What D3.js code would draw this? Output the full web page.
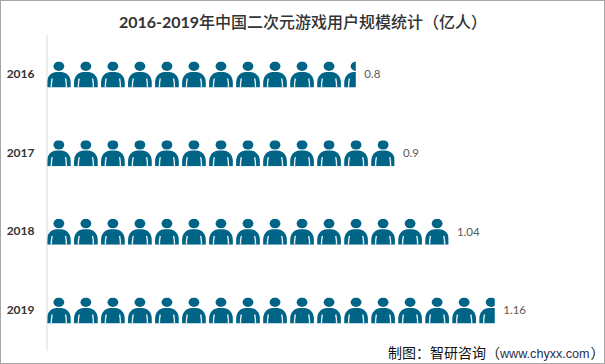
<!doctype html>
<html lang="en">
<head>
<meta charset="utf-8">
<title>2016-2019年中国二次元游戏用户规模统计</title>
<script src="https://d3js.org/d3.v7.min.js"></script>
<style>
  html, body { margin: 0; padding: 0; background: #fff; }
  svg { display: block; }
  .title { font-family: "Noto Sans CJK SC", sans-serif; font-size: 16px; font-weight: 500; fill: #333; text-anchor: middle; }
  .title .num { font-family: Lato, sans-serif; font-weight: 700; }
  .source { font-family: "Noto Sans CJK SC", sans-serif; font-size: 14px; fill: #111; }
  .source .url { font-family: "Liberation Sans", sans-serif; font-size: 12.6px; fill: #1f2f4f; }
  .tick text { font-family: Lato, sans-serif; font-size: 12px; font-weight: 700; fill: #333; }
  .value { font-family: Lato, sans-serif; font-size: 11.5px; fill: #595959; }
</style>
</head>
<body>
<div id="chart"></div>
<script>
  let years = ["2016", "2017", "2018", "2019"];
  let users = [0.8, 0.9, 1.04, 1.16];
  let valueLabels = ["0.8", "0.9", "1.04", "1.16"];
  // one person icon stands for this many 亿
  let perIcon = 0.07;

  let width = 605, height = 364;

  let svg = d3.select("#chart").append("svg")
      .attr("width", width)
      .attr("height", height);

  // frame round the picture
  svg.append("rect")
      .attr("x", 0.5).attr("y", 0.5)
      .attr("width", width - 1).attr("height", height - 1)
      .attr("fill", "#fff")
      .attr("stroke", "#a6a6a6");

  let xScale = d3.scaleLinear().domain([0, 1]).range([47, 433]);
  let yScale = d3.scaleBand().domain(years).range([34.5, 350.5])
      .paddingInner(0.67).paddingOuter(0.3435);

  let defs = svg.append("defs");

  // person icon, drawn in a 23.7 x 26 box
  let icon = defs.append("g").attr("id", "person");
  icon.append("ellipse")
      .attr("cx", 11.85).attr("cy", 4.7)
      .attr("rx", 5.4).attr("ry", 4.7)
      .attr("fill", "#006487");
  icon.append("path")
      .attr("d", "M0,26V21C0,14 5,10.4 9.5,10.4H14.2C18.7,10.4 23.7,14 23.7,21V26Z")
      .attr("fill", "#006487");
  icon.append("path")
      .attr("d", "M4.3,26C4.3,23 4.4,20 5.2,17M19.4,26C19.4,23 19.3,20 18.5,17")
      .attr("fill", "none")
      .attr("stroke", "#e6eef1")
      .attr("stroke-width", 1.4);

  let rows = svg.selectAll(".row")
      .data(years)
      .enter().append("g")
      .attr("class", "row")
      .attr("transform", d => "translate(0," + yScale(d) + ")");

  // the clip ends the last person at the exact value
  rows.append("clipPath")
      .attr("id", (d, i) => "clip" + i)
      .append("rect")
      .attr("x", xScale(0))
      .attr("y", 0)
      .attr("width", (d, i) => xScale(users[i]) - xScale(0))
      .attr("height", yScale.bandwidth());

  rows.append("g")
      .attr("clip-path", (d, i) => "url(#clip" + i + ")")
      .selectAll("use")
      .data((d, i) => d3.range(Math.ceil(users[i] / perIcon)))
      .enter().append("use")
      .attr("href", "#person")
      .attr("x", d => xScale(d * perIcon));

  rows.append("text")
      .attr("class", "value")
      .attr("x", (d, i) => xScale(users[i]) + 8.5)
      .attr("y", yScale.bandwidth() / 2 + 4)
      .text((d, i) => valueLabels[i]);

  let yAxis = svg.append("g")
      .attr("transform", "translate(46.5,0)")
      .call(d3.axisLeft(yScale).tickSize(0).tickPadding(12));
  yAxis.select(".domain").attr("stroke", "#d9d9d9");
  yAxis.selectAll(".tick text").attr("dy", "0.3em");

  let title = svg.append("text").attr("class", "title").attr("x", 303).attr("y", 28);
  title.append("tspan").attr("class", "num").text("2016-2019");
  title.append("tspan").text("年中国二次元游戏用户规模统计（亿人）");

  let source = svg.append("text").attr("class", "source").attr("y", 358);
  source.append("tspan").attr("x", 388).text("制图：智研咨询（");
  source.append("tspan").attr("class", "url").attr("x", 500).text("www.chyxx.com");
  source.append("tspan").attr("x", 590.6).text("）");
</script>
</body>
</html>
